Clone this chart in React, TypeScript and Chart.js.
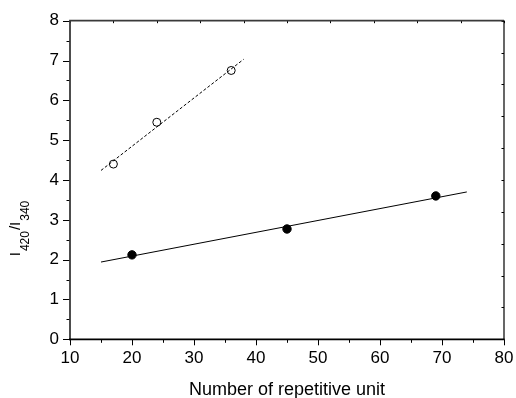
import React, { useEffect, useRef } from "react";
import { Chart, registerables } from "chart.js";

Chart.register(...registerables);

// Open circles (dashed fit)
const openX = [17, 24, 36];
const openY = [4.4, 5.45, 6.75];
// Filled circles (solid fit)
const filledX = [20, 45, 69];
const filledY = [2.12, 2.77, 3.6];
// Linear fits
const dashFitX = [15, 38];
const dashFitY = [4.24, 7.03];
const solidFitX = [15, 74];
const solidFitY = [1.94, 3.7];

const xTitle = "Number of repetitive unit";
const yTitleParts = [
  { t: "I", sub: false },
  { t: "420", sub: true },
  { t: "/", sub: false },
  { t: "I", sub: false },
  { t: "340", sub: true },
];

const FONT = "'Liberation Sans', Arial, sans-serif";

const pts = (xs: number[], ys: number[]) => xs.map((x, i) => ({ x, y: ys[i] }));

const frame = {
  id: "frame",
  afterDraw(chart: any) {
    const ctx = chart.ctx;
    const { left, right, top, bottom } = chart.chartArea;
    const sx = chart.scales.x;
    const sy = chart.scales.y;
    const sxt = chart.scales.xTop;
    const syr = chart.scales.yRight;
    ctx.save();
    ctx.strokeStyle = "#000";
    ctx.lineWidth = 1;
    sx.ticks.forEach((t: any) => {
      const p = Math.round(sx.getPixelForValue(t.value)) + 0.5;
      const major = t.value % 10 === 0;
      ctx.beginPath();
      ctx.moveTo(p, bottom);
      ctx.lineTo(p, bottom + (major ? 6 : 3.5));
      ctx.stroke();
    });
    sy.ticks.forEach((t: any) => {
      const p = Math.round(sy.getPixelForValue(t.value)) + 0.5;
      const major = Math.abs(t.value - Math.round(t.value)) < 1e-6;
      ctx.beginPath();
      ctx.moveTo(left, p);
      ctx.lineTo(left - (major ? 7 : 3.5), p);
      ctx.stroke();
    });
    sxt.ticks.forEach((t: any) => {
      const p = Math.round(sxt.getPixelForValue(t.value)) + 0.5;
      ctx.beginPath();
      ctx.moveTo(p, top);
      ctx.lineTo(p, top + 2.5);
      ctx.stroke();
    });
    syr.ticks.forEach((t: any) => {
      const p = Math.round(syr.getPixelForValue(t.value)) + 0.5;
      ctx.beginPath();
      ctx.moveTo(right, p);
      ctx.lineTo(right - 2.5, p);
      ctx.stroke();
    });
    ctx.lineWidth = 1.8;
    ctx.strokeStyle = "#3a3a3a";
    ctx.beginPath();
    ctx.moveTo(left, bottom + 1);
    ctx.lineTo(left, top);
    ctx.lineTo(right, top);
    ctx.stroke();
    ctx.lineWidth = 1.2;
    ctx.strokeStyle = "#000";
    ctx.beginPath();
    ctx.moveTo(right, top);
    ctx.lineTo(right, bottom);
    ctx.stroke();
    ctx.lineWidth = 1.8;
    ctx.beginPath();
    ctx.moveTo(left - 1, bottom);
    ctx.lineTo(right + 0.6, bottom);
    ctx.stroke();

    ctx.fillStyle = "#000";
    ctx.textBaseline = "alphabetic";
    ctx.textAlign = "left";
    const mainFont = `15px ${FONT}`;
    const subFont = `12px ${FONT}`;
    let total = 0;
    yTitleParts.forEach((p) => {
      ctx.font = p.sub ? subFont : mainFont;
      total += ctx.measureText(p.t).width + (p.sub ? 2 : 0);
    });
    const cy = 228;
    ctx.translate(20, cy + total / 2);
    ctx.rotate(-Math.PI / 2);
    let xo = 0;
    yTitleParts.forEach((p) => {
      ctx.font = p.sub ? subFont : mainFont;
      if (p.sub) xo += 1;
      ctx.fillText(p.t, xo, p.sub ? 8.5 : 0);
      xo += ctx.measureText(p.t).width + (p.sub ? 1 : 0);
    });
    ctx.restore();
  },
};

export default function App() {
  const ref = useRef<HTMLCanvasElement>(null);
  useEffect(() => {
    if (!ref.current) return;
    const chart = new Chart(ref.current, {
      type: "scatter",
      data: {
        datasets: [
          {
            label: "fit1",
            data: pts(dashFitX, dashFitY),
            showLine: true,
            borderColor: "#000",
            borderWidth: 1,
            borderDash: [3, 2],
            pointRadius: 0,
          },
          {
            label: "fit2",
            data: pts(solidFitX, solidFitY),
            showLine: true,
            borderColor: "#000",
            borderWidth: 1,
            pointRadius: 0,
          },
          {
            label: "open",
            data: pts(openX, openY),
            showLine: false,
            pointRadius: 4,
            pointBackgroundColor: "#fff",
            pointBorderColor: "#000",
            pointBorderWidth: 1,
          },
          {
            label: "filled",
            data: pts(filledX, filledY),
            showLine: false,
            pointRadius: 4.2,
            pointBackgroundColor: "#000",
            pointBorderColor: "#000",
            pointBorderWidth: 1,
          },
        ],
      },
      options: {
        responsive: false,
        animation: false,
        plugins: { legend: { display: false }, tooltip: { enabled: false } },
        layout: { padding: 0 },
        scales: {
          x: {
            type: "linear",
            position: "bottom",
            min: 10,
            max: 80,
            ticks: {
              stepSize: 5,
              autoSkip: false,
              maxRotation: 0,
              padding: 9,
              color: "#000",
              font: { family: FONT, size: 17 },
              callback: (v: any) => (Number(v) % 10 === 0 ? String(v) : ""),
            },
            grid: { display: false, drawTicks: false },
            border: { display: false },
            title: {
              display: true,
              text: xTitle,
              color: "#000",
              font: { family: FONT, size: 18 },
              padding: { top: 0, bottom: -3 },
            },
            afterFit: (s: any) => {
              s.height = 58.7;
              s.paddingLeft = 0;
              s.paddingRight = 0;
            },
          },
          xTop: {
            type: "linear",
            position: "top",
            min: 0,
            max: 10,
            ticks: { stepSize: 1, display: false },
            grid: { display: false, drawTicks: false },
            border: { display: false },
            afterFit: (s: any) => {
              s.height = 20.7;
              s.paddingLeft = 0;
              s.paddingRight = 0;
            },
          },
          y: {
            type: "linear",
            position: "left",
            min: 0,
            max: 8,
            ticks: {
              stepSize: 0.5,
              autoSkip: false,
              padding: 11,
              color: "#000",
              font: { family: FONT, size: 17 },
              callback: (v: any) =>
                Math.abs(Number(v) - Math.round(Number(v))) < 1e-6 ? String(v) : "",
            },
            grid: { display: false, drawTicks: false },
            border: { display: false },
            afterFit: (s: any) => {
              s.width = 70;
              s.paddingTop = 0;
              s.paddingBottom = 0;
            },
          },
          yRight: {
            type: "linear",
            position: "right",
            min: 0,
            max: 10,
            ticks: { stepSize: 1, display: false },
            grid: { display: false, drawTicks: false },
            border: { display: false },
            afterFit: (s: any) => {
              s.width = 12;
              s.paddingTop = 0;
              s.paddingBottom = 0;
            },
          },
        },
      } as any,
      plugins: [frame],
    });
    return () => chart.destroy();
  }, []);
  return (
    <div style={{ position: "absolute", left: 0, top: 0, width: 516, height: 398, background: "#fff" }}>
      <canvas ref={ref} width={516} height={398} />
    </div>
  );
}
